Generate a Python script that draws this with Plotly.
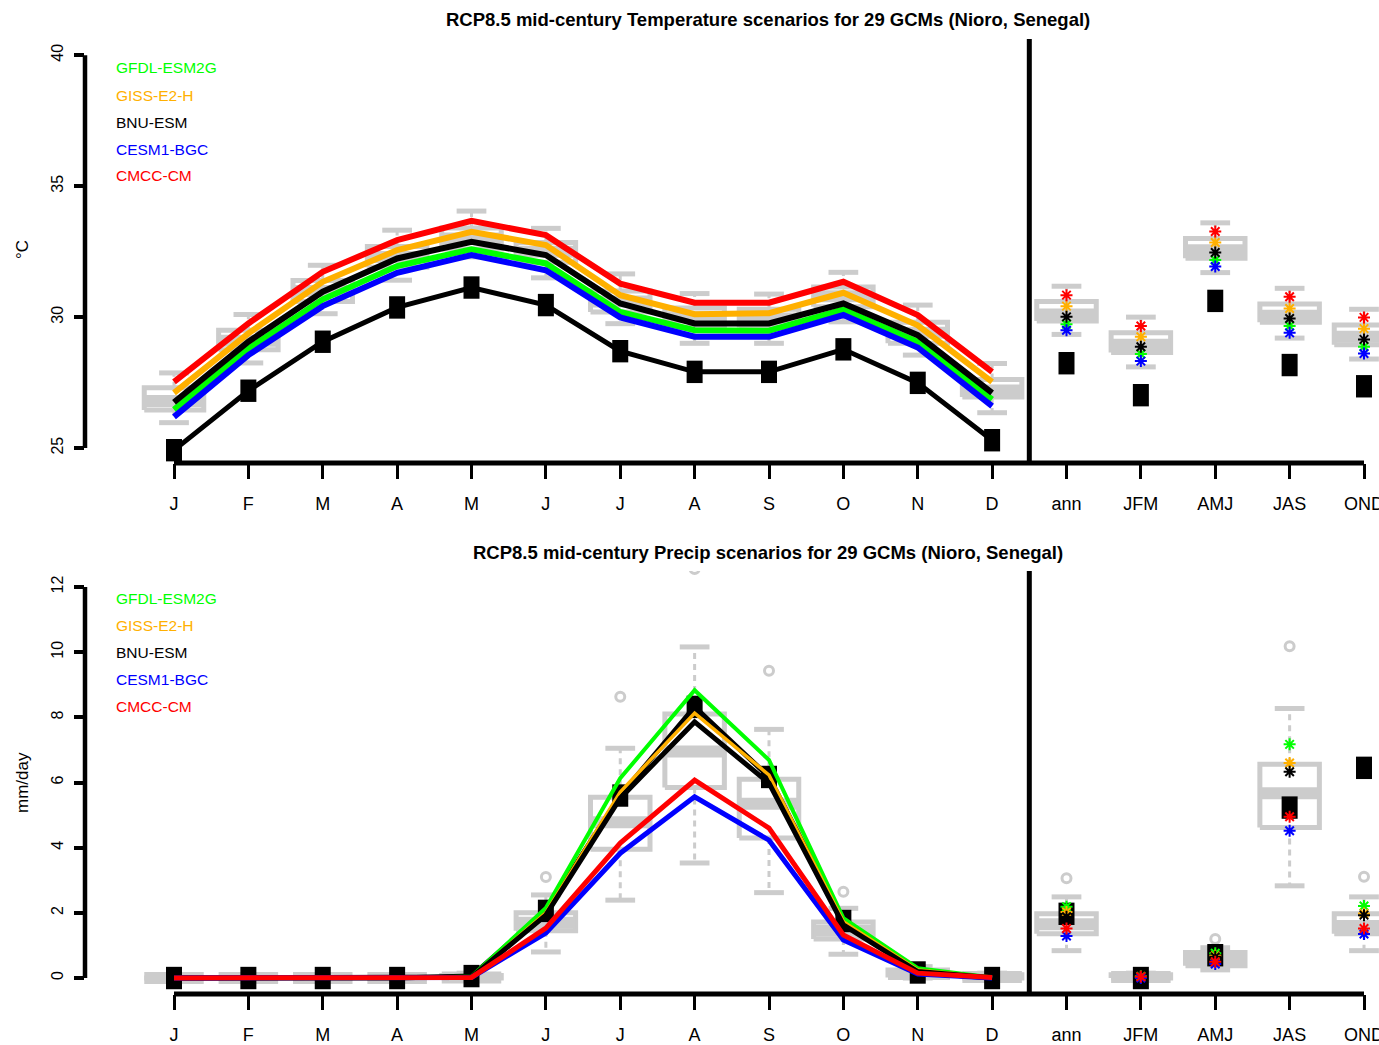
import plotly.graph_objects as go

# ---------------- data ----------------
months = ["J", "F", "M", "A", "M", "J", "J", "A", "S", "O", "N", "D"]
seasons = ["ann", "JFM", "AMJ", "JAS", "OND"]
tick_labels = months + seasons
positions = list(range(1, 18))
month_pos = list(range(1, 13))
season_pos = list(range(13, 18))

models = ["GFDL-ESM2G", "GISS-E2-H", "BNU-ESM", "CESM1-BGC", "CMCC-CM"]
model_colors = ["#00FF00", "#FFB000", "#000000", "#0000FF", "#FF0000"]

# Temperature (deg C) - observed baseline
temp_obs_mon = [24.92, 27.19, 29.06, 30.37, 31.13, 30.46, 28.70, 27.91, 27.91, 28.77, 27.49, 25.30]
temp_obs_sea = [28.24, 27.02, 30.62, 28.17, 27.36]
# Temperature - selected GCMs (monthly)
temp_gfdl_mon = [26.47, 28.80, 30.68, 31.95, 32.59, 32.05, 30.20, 29.50, 29.48, 30.29, 29.06, 26.86]
temp_giss_mon = [27.11, 29.38, 31.35, 32.56, 33.26, 32.75, 30.84, 30.11, 30.15, 30.93, 29.69, 27.53]
temp_bnu_mon = [26.75, 29.06, 30.97, 32.24, 32.88, 32.37, 30.52, 29.76, 29.76, 30.52, 29.31, 27.11]
temp_cesm_mon = [26.19, 28.55, 30.42, 31.69, 32.37, 31.79, 29.99, 29.25, 29.25, 30.08, 28.84, 26.60]
temp_cmcc_mon = [27.53, 29.76, 31.73, 32.94, 33.68, 33.13, 31.28, 30.55, 30.55, 31.35, 30.08, 27.91]
# Temperature - selected GCMs (seasonal)
temp_gfdl_sea = [29.73, 28.59, 32.18, 29.66, 28.87]
temp_giss_sea = [30.42, 29.25, 32.85, 30.33, 29.56]
temp_bnu_sea = [30.01, 28.87, 32.47, 29.95, 29.15]
temp_cesm_sea = [29.50, 28.32, 31.93, 29.40, 28.61]
temp_cmcc_sea = [30.84, 29.66, 33.27, 30.78, 29.99]
# Temperature - 29 GCM box statistics (12 months + 5 seasons)
temp_box_lo = [25.97, 28.25, 30.13, 31.41, 32.30, 31.50, 29.75, 29.00, 29.00, 29.82, 28.55, 26.35, 29.34, 28.10, 31.70, 29.20, 28.40]
temp_box_q1 = [26.45, 28.75, 30.60, 31.90, 32.60, 32.10, 30.20, 29.60, 29.60, 30.40, 29.00, 26.95, 29.85, 28.65, 32.25, 29.80, 28.95]
temp_box_med = [26.80, 29.10, 31.00, 32.30, 33.00, 32.50, 30.60, 30.00, 29.95, 30.80, 29.40, 27.20, 30.10, 28.95, 32.55, 30.05, 29.25]
temp_box_q3 = [27.30, 29.50, 31.40, 32.70, 33.40, 32.85, 31.00, 30.35, 30.30, 31.15, 29.80, 27.62, 30.60, 29.40, 33.00, 30.50, 29.70]
temp_box_hi = [27.87, 30.10, 31.98, 33.32, 34.05, 33.39, 31.65, 30.90, 30.88, 31.71, 30.46, 28.23, 31.18, 30.00, 33.60, 31.10, 30.30]

# Precipitation (mm/day) - observed baseline
prec_obs_mon = [0.0, 0.0, 0.0, 0.0, 0.06, 2.06, 5.60, 8.32, 6.17, 1.75, 0.17, 0.0]
prec_obs_sea = [1.97, 0.0, 0.70, 5.23, 6.45]
# Precipitation - selected GCMs (monthly)
prec_gfdl_mon = [0.0, 0.0, 0.0, 0.0, 0.05, 2.15, 6.13, 8.83, 6.69, 1.84, 0.30, 0.02]
prec_giss_mon = [0.0, 0.0, 0.0, 0.0, 0.03, 2.00, 5.71, 8.13, 6.23, 1.73, 0.25, 0.02]
prec_bnu_mon = [0.0, 0.0, 0.0, 0.0, 0.03, 1.93, 5.52, 7.86, 5.98, 1.63, 0.20, 0.01]
prec_cesm_mon = [0.0, 0.0, 0.0, 0.0, 0.02, 1.38, 3.83, 5.56, 4.23, 1.17, 0.12, 0.0]
prec_cmcc_mon = [0.0, 0.0, 0.0, 0.0, 0.02, 1.53, 4.14, 6.07, 4.60, 1.32, 0.15, 0.02]
# Precipitation - selected GCMs (seasonal)
prec_gfdl_sea = [2.19, 0.05, 0.76, 7.17, 2.21]
prec_giss_sea = [2.03, 0.04, 0.68, 6.60, 1.98]
prec_bnu_sea = [1.88, 0.03, 0.65, 6.33, 1.93]
prec_cesm_sea = [1.29, 0.00, 0.43, 4.52, 1.35]
prec_cmcc_sea = [1.52, 0.04, 0.50, 4.95, 1.52]
# Precipitation - 29 GCM box statistics
prec_box_lo = [0, 0, 0, 0, 0.0, 0.80, 2.39, 3.53, 2.62, 0.73, 0.0, 0.0, 0.84, 0.0, 0.25, 2.83, 0.84]
prec_box_q1 = [0, 0, 0, 0, 0.0, 1.45, 3.95, 5.85, 4.30, 1.20, 0.02, 0.0, 1.36, 0.0, 0.38, 4.62, 1.36]
prec_box_med = [0, 0, 0, 0, 0.02, 1.70, 4.78, 6.95, 5.35, 1.45, 0.12, 0.03, 1.65, 0.03, 0.58, 5.67, 1.60]
prec_box_q3 = [0, 0, 0, 0, 0.08, 2.00, 5.55, 8.10, 6.10, 1.72, 0.25, 0.10, 1.97, 0.10, 0.78, 6.56, 1.97]
prec_box_hi = [0, 0, 0, 0, 0.15, 2.55, 7.05, 10.16, 7.63, 2.14, 0.35, 0.15, 2.49, 0.15, 0.93, 8.27, 2.49]
prec_out_pos = [6, 7, 8, 9, 10, 13, 15, 16, 17]
prec_out_val = [3.10, 8.63, 12.55, 9.43, 2.65, 3.06, 1.20, 10.18, 3.11]

temp_mon_series = [temp_gfdl_mon, temp_giss_mon, temp_bnu_mon, temp_cesm_mon, temp_cmcc_mon]
temp_sea_series = [temp_gfdl_sea, temp_giss_sea, temp_bnu_sea, temp_cesm_sea, temp_cmcc_sea]
prec_mon_series = [prec_gfdl_mon, prec_giss_mon, prec_bnu_mon, prec_cesm_mon, prec_cmcc_mon]
prec_sea_series = [prec_gfdl_sea, prec_giss_sea, prec_bnu_sea, prec_cesm_sea, prec_cmcc_sea]

# ---------------- style ----------------
GRAY = "#CCCCCC"
FONT = "Liberation Sans, Arial, Helvetica, sans-serif"
W, H = 1379, 1045

fig = go.Figure()


def add_boxes(xa, ya, lo, q1, med, q3, hi, out_pos=None, out_val=None):
    half, cap = 0.4, 0.2
    bx, by, mx, my, wx, wy, cx, cy = [], [], [], [], [], [], [], []
    for p, a, b, c, d, e in zip(positions, lo, q1, med, q3, hi):
        bx += [p - half, p + half, p + half, p - half, p - half, None]
        by += [b, b, d, d, b, None]
        mx += [p - half, p + half, None]
        my += [c, c, None]
        wx += [p, p, None, p, p, None]
        wy += [d, e, None, b, a, None]
        cx += [p - cap, p + cap, None, p - cap, p + cap, None]
        cy += [e, e, None, a, a, None]
    common = dict(xaxis=xa, yaxis=ya, mode="lines", showlegend=False, hoverinfo="skip")
    fig.add_trace(go.Scatter(x=wx, y=wy, line=dict(color=GRAY, width=3, dash="6px,5px"), **common))
    fig.add_trace(go.Scatter(x=cx, y=cy, line=dict(color=GRAY, width=5), **common))
    fig.add_trace(go.Scatter(x=bx, y=by, line=dict(color=GRAY, width=5), **common))
    fig.add_trace(go.Scatter(x=mx, y=my, line=dict(color=GRAY, width=12), **common))
    if out_pos:
        fig.add_trace(go.Scatter(x=out_pos, y=out_val, xaxis=xa, yaxis=ya, mode="markers",
                                 marker=dict(symbol="circle-open", size=9, color=GRAY, line=dict(width=3)),
                                 showlegend=False, hoverinfo="skip"))


def add_panel(xa, ya, obs_mon, obs_sea, mon_series, sea_series, widths):
    fig.add_trace(go.Scatter(x=month_pos, y=obs_mon, xaxis=xa, yaxis=ya, mode="lines",
                             line=dict(color="black", width=5), showlegend=False))
    fig.add_trace(go.Scatter(x=month_pos + season_pos, y=obs_mon + obs_sea, xaxis=xa, yaxis=ya,
                             mode="markers",
                             marker=dict(symbol="line-ns-open", size=16, color="black",
                                         line=dict(width=16, color="black")),
                             showlegend=False))
    for name, col, m, w in zip(models, model_colors, mon_series, widths):
        fig.add_trace(go.Scatter(x=month_pos, y=m, xaxis=xa, yaxis=ya, mode="lines",
                                 line=dict(color=col, width=w), name=name, showlegend=False))
    for name, col, s in zip(models, model_colors, sea_series):
        fig.add_trace(go.Scatter(x=season_pos, y=s, xaxis=xa, yaxis=ya, mode="markers",
                                 marker=dict(symbol="asterisk-open", size=10, color=col,
                                             line=dict(width=2, color=col)),
                                 showlegend=False))


# Temperature panel
add_boxes("x", "y", temp_box_lo, temp_box_q1, temp_box_med, temp_box_q3, temp_box_hi)
add_panel("x", "y", temp_obs_mon, temp_obs_sea, temp_mon_series, temp_sea_series, [6, 6, 6, 6, 6])
# Precipitation panel
add_boxes("x2", "y2", prec_box_lo, prec_box_q1, prec_box_med, prec_box_q3, prec_box_hi,
          prec_out_pos, prec_out_val)
add_panel("x2", "y2", prec_obs_mon, prec_obs_sea, prec_mon_series, prec_sea_series, [4, 3.5, 5, 5, 5])

# ---------------- layout ----------------
x_range = [-0.1966, 17.2017]
xaxis_common = dict(range=x_range, domain=[0, 1], tickmode="array", tickvals=positions,
                    ticktext=tick_labels, ticks="outside", ticklen=15, tickwidth=3,
                    tickcolor="black", showline=False, showgrid=False, zeroline=False,
                    tickfont=dict(family=FONT, size=18, color="black"),
                    ticklabelstandoff=9, ticklabeloverflow="allow", automargin=False,
                    fixedrange=True)
yaxis_common = dict(ticks="outside", ticklen=10, tickwidth=4, tickcolor="black",
                    showline=False, showgrid=False, zeroline=False, tickangle=-90,
                    tickfont=dict(family=FONT, size=16, color="black"),
                    ticklabelstandoff=5, automargin=False, fixedrange=True)

fig.update_layout(
    width=W, height=H,
    margin=dict(l=85, r=0, t=0, b=0, autoexpand=False),
    paper_bgcolor="white", plot_bgcolor="white",
    showlegend=False,
    xaxis=dict(anchor="y", **xaxis_common),
    yaxis=dict(anchor="x", domain=[1 - 463 / H, 1 - 39 / H], range=[24.43, 40.62],
               tickvals=[25, 30, 35, 40], **yaxis_common),
    xaxis2=dict(anchor="y2", **xaxis_common),
    yaxis2=dict(anchor="x2", domain=[1 - 994 / H, 1 - 571 / H], range=[-0.49, 12.49],
                tickvals=[0, 2, 4, 6, 8, 10, 12], **yaxis_common),
)

shapes = []
for xa, ya, ylo, yhi in [("x", "y", 25, 40), ("x2", "y2", 0, 12)]:
    # left axis line
    shapes.append(dict(type="line", xref=f"{xa} domain", yref=ya, x0=0, x1=0, y0=ylo, y1=yhi,
                       line=dict(color="black", width=4.5)))
    # bottom axis line
    shapes.append(dict(type="line", xref=xa, yref=f"{ya} domain", x0=positions[0], x1=positions[-1],
                       y0=0, y1=0, line=dict(color="black", width=5)))
    # separator between months and seasons
    shapes.append(dict(type="line", xref=xa, yref=f"{ya} domain", x0=12.5, x1=12.5, y0=0, y1=1,
                       line=dict(color="black", width=5)))
fig.update_layout(shapes=shapes)


def px_x(px):
    return (px - 85) / (W - 85)


def px_y(py):
    return 1 - py / H


annotations = [
    dict(text="<b>RCP8.5 mid-century Temperature scenarios for 29 GCMs (Nioro, Senegal)</b>",
         x=px_x(768), y=px_y(20)),
    dict(text="<b>RCP8.5 mid-century Precip scenarios for 29 GCMs (Nioro, Senegal)</b>",
         x=px_x(768), y=px_y(552)),
]
for a in annotations:
    a.update(xref="paper", yref="paper", showarrow=False, xanchor="center", yanchor="middle",
             font=dict(family=FONT, size=18.5, color="black"))

for top in (68, 598):
    for i, (name, col) in enumerate(zip(models, model_colors)):
        annotations.append(dict(text=name, x=px_x(114), y=px_y(top + 27 * i), xref="paper",
                                yref="paper", showarrow=False, xanchor="left", yanchor="middle",
                                font=dict(family=FONT, size=15.5, color=col)))

annotations.append(dict(text="°C", x=px_x(22), y=px_y(250), xref="paper", yref="paper",
                        showarrow=False, textangle=-90, xanchor="center", yanchor="middle",
                        font=dict(family=FONT, size=17, color="black")))
annotations.append(dict(text="mm/day", x=px_x(22), y=px_y(783), xref="paper", yref="paper",
                        showarrow=False, textangle=-90, xanchor="center", yanchor="middle",
                        font=dict(family=FONT, size=17, color="black")))
fig.update_layout(annotations=annotations)

fig.write_html("out.html")
